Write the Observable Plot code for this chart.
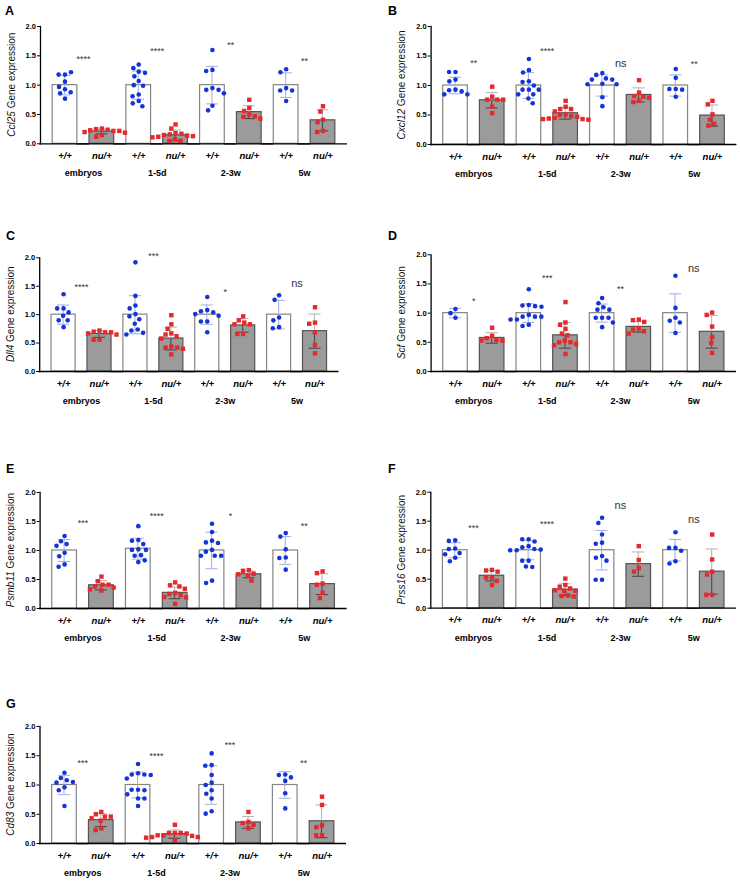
<!DOCTYPE html>
<html><head><meta charset="utf-8">
<script src="https://cdn.jsdelivr.net/npm/d3@7"></script>
<script src="https://cdn.jsdelivr.net/npm/@observablehq/plot@0.6"></script>
<style>
body{margin:0;background:#fff;}
#page{position:relative;width:740px;height:883px;overflow:hidden;background:#fff;font-family:"Liberation Sans",Arial,Helvetica,sans-serif;}
.panel{position:absolute;}
.letter{position:absolute;font-size:12.5px;line-height:12.5px;font-weight:bold;color:#000;}
</style></head><body><div id="page"></div>
<script>
// ---------- categories ----------
const groups = ["embryos", "1-5d", "2-3w", "5w"];
const genotypes = ["+/+", "nu/+"];
const genes = ["Ccl25", "Cxcl12", "Dll4", "Scf", "Psmb11", "Prss16", "Cd83"];
const letters = ["A", "B", "C", "D", "E", "F", "G"];
const yTicks = [0, 0.5, 1.0, 1.5, 2.0];

// ---------- data (order: embryos +/+, embryos nu/+, 1-5d +/+, 1-5d nu/+, 2-3w +/+, 2-3w nu/+, 5w +/+, 5w nu/+) ----------
const ccl25Mean = [1.0, 0.21, 1.0, 0.145, 1.0, 0.54, 1.0, 0.40];
const ccl25SD = [0.165, 0.04, 0.24, 0.09, 0.32, 0.11, 0.21, 0.18];
const ccl25Points = [
  [1.18, 1.18, 1.22, 1.06, 0.93, 0.97, 0.88, 0.86, 0.77],
  [0.26, 0.25, 0.24, 0.23, 0.22, 0.22, 0.20, 0.19, 0.15, 0.12],
  [1.35, 1.29, 1.23, 1.21, 1.15, 1.07, 1.00, 0.99, 0.84, 0.81, 0.73, 0.69, 0.64],
  [0.33, 0.26, 0.18, 0.17, 0.16, 0.15, 0.14, 0.13, 0.12, 0.11, 0.08, 0.05, 0.05],
  [1.60, 1.26, 1.24, 0.95, 0.92, 0.92, 0.86, 0.65, 0.57],
  [0.75, 0.61, 0.56, 0.50, 0.47, 0.46, 0.43],
  [1.27, 1.22, 0.95, 0.91, 0.91, 0.73],
  [0.64, 0.55, 0.41, 0.37, 0.22, 0.20]
];
const ccl25Sig = ["****", "****", "**", "**"];
const ccl25SigY = [1.48, 1.62, 1.72, 1.44];

const cxcl12Mean = [1.0, 0.75, 1.0, 0.53, 1.0, 0.84, 1.0, 0.49];
const cxcl12SD = [0.14, 0.13, 0.22, 0.10, 0.18, 0.12, 0.18, 0.18];
const cxcl12Points = [
  [1.23, 1.23, 1.10, 1.07, 0.93, 0.92, 0.90, 0.85, 0.85],
  [0.98, 0.81, 0.76, 0.76, 0.76, 0.64, 0.53],
  [1.45, 1.26, 1.22, 1.07, 1.06, 1.00, 0.93, 0.93, 0.93, 0.85, 0.85, 0.78, 0.70],
  [0.74, 0.64, 0.60, 0.60, 0.56, 0.51, 0.50, 0.48, 0.47, 0.45, 0.44, 0.43, 0.43, 0.42],
  [1.21, 1.18, 1.12, 1.10, 1.10, 1.03, 1.02, 1.02, 0.80, 0.65],
  [1.09, 0.88, 0.82, 0.81, 0.79, 0.74, 0.72],
  [1.28, 1.13, 0.94, 0.94, 0.93, 0.81],
  [0.74, 0.68, 0.51, 0.42, 0.35, 0.32]
];
const cxcl12Sig = ["**", "****", "ns", "**"];
const cxcl12SigY = [1.42, 1.61, 1.38, 1.40];

const dll4Mean = [1.0, 0.66, 1.0, 0.58, 1.0, 0.81, 1.0, 0.71];
const dll4SD = [0.17, 0.06, 0.335, 0.20, 0.17, 0.12, 0.25, 0.30];
const dll4Points = [
  [1.36, 1.11, 1.11, 1.04, 0.98, 0.90, 0.90, 0.78],
  [0.72, 0.70, 0.69, 0.69, 0.67, 0.65, 0.56, 0.56],
  [1.92, 1.33, 1.16, 1.11, 1.01, 0.97, 0.92, 0.84, 0.74, 0.72, 0.68, 0.65],
  [0.99, 0.83, 0.75, 0.67, 0.65, 0.62, 0.58, 0.44, 0.42, 0.42, 0.40, 0.30],
  [1.31, 1.08, 1.06, 1.04, 1.01, 0.98, 0.88, 0.88, 0.69],
  [0.97, 0.90, 0.86, 0.83, 0.83, 0.66, 0.66],
  [1.34, 1.26, 0.95, 0.90, 0.78, 0.76],
  [1.13, 0.86, 0.84, 0.69, 0.47, 0.32]
];
const dll4Sig = ["****", "***", "*", "ns"];
const dll4SigY = [1.52, 2.07, 1.44, 1.55];

const scfMean = [1.0, 0.575, 1.0, 0.62, 1.0, 0.765, 1.0, 0.68];
const scfSD = [0.08, 0.09, 0.16, 0.22, 0.155, 0.09, 0.33, 0.28];
const scfPoints = [
  [1.07, 1.00, 0.92],
  [0.75, 0.61, 0.57, 0.54, 0.53, 0.53],
  [1.41, 1.14, 1.13, 1.12, 1.11, 0.97, 0.94, 0.94, 0.94, 0.89, 0.89, 0.80, 0.78],
  [1.19, 0.84, 0.80, 0.73, 0.65, 0.62, 0.53, 0.50, 0.50, 0.47, 0.45, 0.30],
  [1.26, 1.17, 1.10, 1.06, 1.06, 0.92, 0.92, 0.92, 0.84, 0.76],
  [0.89, 0.88, 0.85, 0.74, 0.72, 0.69, 0.65],
  [1.64, 1.09, 0.92, 0.87, 0.84, 0.66],
  [1.01, 0.97, 0.77, 0.59, 0.49, 0.32]
];
const scfSig = ["*", "***", "**", "ns"];
const scfSigY = [1.24, 1.63, 1.44, 1.77];

const psmb11Mean = [1.0, 0.40, 1.03, 0.27, 1.0, 0.59, 1.0, 0.42];
const psmb11SD = [0.19, 0.08, 0.18, 0.10, 0.315, 0.06, 0.24, 0.18];
const psmb11Points = [
  [1.25, 1.16, 1.11, 1.08, 0.96, 0.90, 0.76, 0.72],
  [0.55, 0.47, 0.41, 0.41, 0.38, 0.36, 0.33, 0.31],
  [1.42, 1.18, 1.17, 1.11, 1.02, 1.01, 1.01, 0.92, 0.91, 0.83, 0.80],
  [0.45, 0.40, 0.38, 0.34, 0.27, 0.25, 0.23, 0.20, 0.19, 0.08],
  [1.46, 1.32, 1.17, 1.14, 1.13, 1.01, 0.98, 0.91, 0.91, 0.91, 0.48, 0.44],
  [0.66, 0.65, 0.60, 0.59, 0.56, 0.48],
  [1.30, 1.24, 1.02, 0.88, 0.87, 0.67],
  [0.64, 0.61, 0.43, 0.41, 0.27, 0.18]
];
const psmb11Sig = ["***", "****", "*", "**"];
const psmb11SigY = [1.50, 1.62, 1.63, 1.46];

const prss16Mean = [1.0, 0.56, 1.0, 0.32, 1.0, 0.76, 1.0, 0.63];
const prss16SD = [0.13, 0.09, 0.165, 0.10, 0.34, 0.21, 0.185, 0.39];
const prss16Points = [
  [1.17, 1.16, 1.03, 1.02, 0.95, 0.93, 0.87, 0.81],
  [0.66, 0.65, 0.63, 0.53, 0.53, 0.47, 0.40],
  [1.19, 1.19, 1.15, 1.07, 1.05, 1.02, 1.01, 1.00, 1.00, 0.82, 0.82, 0.72, 0.71],
  [0.51, 0.40, 0.37, 0.34, 0.31, 0.30, 0.30, 0.22, 0.21, 0.20],
  [1.56, 1.47, 1.27, 1.13, 1.11, 0.90, 0.87, 0.82, 0.49, 0.49],
  [1.07, 0.83, 0.69, 0.63],
  [1.31, 1.04, 1.04, 0.99, 0.81, 0.77],
  [1.27, 0.84, 0.63, 0.58, 0.23, 0.23]
];
const prss16Sig = ["***", "****", "ns", "ns"];
const prss16SigY = [1.42, 1.49, 1.77, 1.53];

const cd83Mean = [1.0, 0.40, 1.0, 0.16, 1.0, 0.36, 1.0, 0.38];
const cd83SD = [0.165, 0.11, 0.22, 0.07, 0.33, 0.10, 0.227, 0.28];
const cd83Points = [
  [1.21, 1.12, 1.08, 1.05, 1.04, 0.96, 0.91, 0.64],
  [0.54, 0.50, 0.46, 0.46, 0.43, 0.39, 0.26, 0.23],
  [1.36, 1.20, 1.18, 1.18, 1.17, 1.11, 0.92, 0.92, 0.91, 0.84, 0.77, 0.77, 0.64],
  [0.32, 0.18, 0.18, 0.18, 0.17, 0.14, 0.14, 0.13, 0.11, 0.11, 0.10, 0.05],
  [1.54, 1.34, 1.33, 1.17, 1.04, 1.00, 0.91, 0.85, 0.77, 0.55, 0.51],
  [0.54, 0.37, 0.35, 0.32, 0.26],
  [1.18, 1.17, 1.13, 1.07, 0.86, 0.60],
  [0.80, 0.66, 0.31, 0.28, 0.14, 0.14]
];
const cd83Sig = ["***", "****", "***", "**"];
const cd83SigY = [1.41, 1.53, 1.72, 1.41];

const panelData = [
  [ccl25Mean, ccl25SD, ccl25Points, ccl25Sig, ccl25SigY],
  [cxcl12Mean, cxcl12SD, cxcl12Points, cxcl12Sig, cxcl12SigY],
  [dll4Mean, dll4SD, dll4Points, dll4Sig, dll4SigY],
  [scfMean, scfSD, scfPoints, scfSig, scfSigY],
  [psmb11Mean, psmb11SD, psmb11Points, psmb11Sig, psmb11SigY],
  [prss16Mean, prss16SD, prss16Points, prss16Sig, prss16SigY],
  [cd83Mean, cd83SD, cd83Points, cd83Sig, cd83SigY]
];

// ---------- layout (page geometry of each panel) ----------
const layout = [
  {col: 0,   axisX: 40.0, endX: 347.0, y2: 26.0,  y0: 143.3, lx: 5,   ly: 7},
  {col: 370, axisX: 60.6, endX: 366.4, y2: 26.0,  y0: 144.0, lx: 388, ly: 7},
  {col: 0,   axisX: 39.2, endX: 338.4, y2: 257.3, y0: 371.0, lx: 6,   ly: 232},
  {col: 370, axisX: 60.6, endX: 366.0, y2: 254.3, y0: 371.0, lx: 388, ly: 232},
  {col: 0,   axisX: 39.6, endX: 346.6, y2: 492.0, y0: 608.0, lx: 6,   ly: 465},
  {col: 370, axisX: 60.3, endX: 366.1, y2: 491.7, y0: 607.7, lx: 388, ly: 465},
  {col: 0,   axisX: 39.5, endX: 346.0, y2: 726.0, y0: 843.0, lx: 6,   ly: 700}
];

const BLUE = "#1634d6", RED = "#e42a2c";
const BLUE_ERR = "#a9b2ee", GREY_ERR_UP = "#b8b8b8", GREY_ERR_DN = "#4a4a4a";
const FONT = "'Liberation Sans', Arial, Helvetica, sans-serif";

const keys = groups.flatMap(g => genotypes.map(t => g + " " + t));
const page = document.getElementById("page");

genes.forEach((gene, gi) => {
  const [mean, sd, pts, sig, sigY] = panelData[gi];
  const L = layout[gi];
  const W = 370;
  const step = (L.endX - L.axisX) / 8.33;
  const off = 0.165 * step;
  const top = Math.round(L.y2) - 26;
  const mt = L.y2 - top;
  const H = Math.ceil(L.y0 - top + 40);
  const mb = H - (L.y0 - top);

  const stats = keys.map((k, i) => ({key: k, group: groups[i >> 1], geno: genotypes[i % 2], mean: mean[i], sd: sd[i]}));
  const dots = stats.flatMap((s, i) => pts[i].map(v => ({key: s.key, geno: s.geno, v})));
  const sigRows = groups.map((g, j) => ({key: g + " +/+", label: sig[j], y: sigY[j]}));
  const barInset = off;
  const capInset = step / 2 - 6;
  const stemInset = step / 2 - 0.55;

  const plot = Plot.plot({
    width: W, height: H,
    marginTop: mt, marginBottom: mb,
    marginLeft: L.axisX + off, marginRight: W - (L.endX - off),
    style: {fontFamily: FONT, fontSize: "9px", background: "transparent", overflow: "visible"},
    fx: {domain: keys, padding: 0, round: false, axis: null},
    y: {domain: [0, 2], axis: null},
    color: {type: "identity"},
    marks: [
      Plot.barY(stats, {fx: "key", y1: 0, y2: "mean", insetLeft: barInset, insetRight: barInset,
        fill: d => d.geno === "+/+" ? "#ffffff" : "#9b9b9b",
        stroke: d => d.geno === "+/+" ? "#858585" : "#545454", strokeWidth: 1.2}),
      // lower error segment + cap
      Plot.rectY(stats, {fx: "key", y1: d => d.mean - d.sd, y2: "mean", insetLeft: stemInset, insetRight: stemInset,
        fill: d => d.geno === "+/+" ? BLUE_ERR : GREY_ERR_DN}),
      Plot.tickY(stats, {fx: "key", y: d => d.mean - d.sd, insetLeft: capInset, insetRight: capInset,
        stroke: d => d.geno === "+/+" ? BLUE_ERR : GREY_ERR_DN, strokeWidth: 1.1}),
      // upper error segment + cap
      Plot.rectY(stats, {fx: "key", y1: "mean", y2: d => d.mean + d.sd, insetLeft: stemInset, insetRight: stemInset,
        fill: d => d.geno === "+/+" ? BLUE_ERR : GREY_ERR_UP}),
      Plot.tickY(stats, {fx: "key", y: d => d.mean + d.sd, insetLeft: capInset, insetRight: capInset,
        stroke: d => d.geno === "+/+" ? BLUE_ERR : GREY_ERR_UP, strokeWidth: 1.1}),
      // individual points
      Plot.dot(dots.filter(d => d.geno === "+/+"),
        Plot.dodgeX({anchor: "middle", padding: 1.8}, {fx: "key", y: "v", r: 2.3, fill: BLUE, symbol: "circle"})),
      Plot.dot(dots.filter(d => d.geno === "nu/+"),
        Plot.dodgeX({anchor: "middle", padding: 0.9}, {fx: "key", y: "v", r: 2.5, fill: RED, symbol: "square"})),
      // axes
      Plot.ruleY([0], {stroke: "#000", strokeWidth: 1.3, insetLeft: -off - 0.6, insetRight: -off}),
      Plot.frame({anchor: "left", facetAnchor: "left", dx: -off, stroke: "#000", strokeWidth: 1.3}),
      Plot.axisY({ticks: yTicks, tickFormat: d => d.toFixed(1), tickSize: 3, tickPadding: 1.5, dx: -off,
        fontSize: 7.5, fontWeight: "bold", label: null, stroke: "#000"}),
      // x labels
      Plot.text(stats, {fx: "key", text: "geno", frameAnchor: "bottom", lineAnchor: "middle", dy: 12,
        fontStyle: "italic", fontWeight: "bold", fontSize: 9.5, fill: "#000"}),
      Plot.text(stats.filter(d => d.geno === "+/+"), {fx: "key", text: "group", frameAnchor: "bottom-right",
        textAnchor: "middle", lineAnchor: "middle", dy: 29.5, fontWeight: "bold", fontSize: 9, fill: "#000"}),
      // significance
      Plot.text(sigRows.filter(d => d.label !== "ns"), {fx: "key", y: "y", text: "label", frameAnchor: "right",
        textAnchor: "middle", lineAnchor: "middle", dy: 2, fontSize: 9, fill: "#333"}),
      Plot.text(sigRows.filter(d => d.label === "ns"), {fx: "key", y: "y", text: "label", frameAnchor: "right",
        textAnchor: "middle", lineAnchor: "middle", fontSize: 11, fill: "#333"})
    ]
  });

  // y-axis title with italic gene symbol
  const ys = plot.scale("y");
  const cy = (ys.apply(0) + ys.apply(2)) / 2;
  const t = d3.select(plot).append("text")
    .attr("transform", `translate(${L.axisX - 29.5},${cy}) rotate(-90)`)
    .attr("text-anchor", "middle").attr("dominant-baseline", "central")
    .attr("font-size", 10).attr("fill", "#111");
  t.append("tspan").attr("font-style", "italic").text(gene);
  t.append("tspan").text(" Gene expression");

  const div = document.createElement("div");
  div.className = "panel";
  div.style.left = L.col + "px";
  div.style.top = top + "px";
  div.appendChild(plot);
  page.appendChild(div);

  const lab = document.createElement("div");
  lab.className = "letter";
  lab.style.left = L.lx + "px";
  lab.style.top = (L.ly - 2) + "px";
  lab.textContent = letters[gi];
  page.appendChild(lab);
});
</script></body></html>
